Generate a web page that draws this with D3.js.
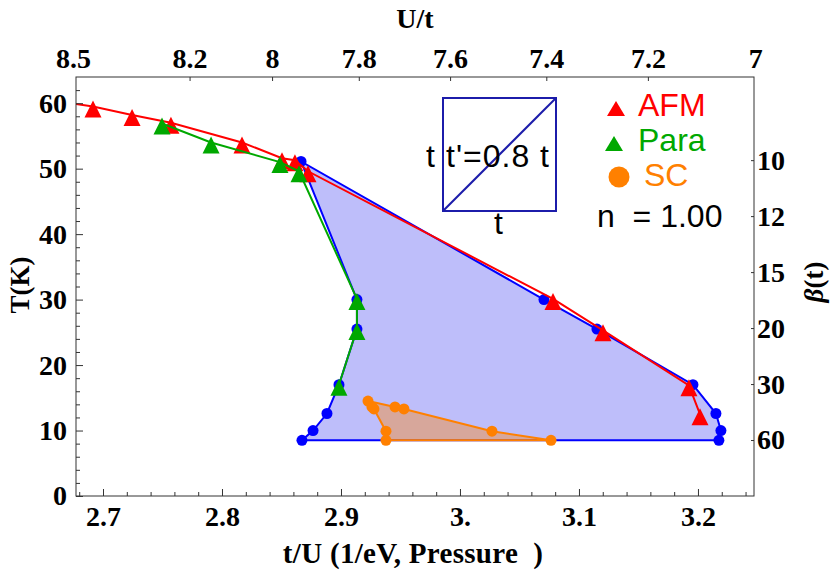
<!DOCTYPE html>
<html>
<head>
<meta charset="UTF-8">
<title>Phase diagram</title>
<script src="https://d3js.org/d3.v7.min.js"></script>
<style>
  body { margin: 0; background: #fff; }
  svg { display: block; }
</style>
</head>
<body>
<svg width="830" height="573"></svg>
<script>
// data (x = t/U, T in K)
const afmX = [2.660, 2.6916, 2.7244, 2.7571, 2.8168, 2.8504, 2.8613, 2.8723, 3.0782, 3.1202, 3.1924, 3.2017];
const afmT = [60.3, 59.5, 58.2, 57.0, 54.0, 51.6, 51.3, 49.6, 30.1, 25.3, 16.9, 12.5];
const paraX = [2.7496, 2.7908, 2.8487, 2.8647, 2.9134, 2.9134, 2.8983];
const paraT = [56.9, 54.0, 51.0, 49.6, 30.1, 25.5, 17.0];
// boundary of the shaded region (left and right branch, same temperatures)
const regionT = [51.1, 30.0, 25.5, 17.0, 12.6, 10.0, 8.5];
const regionLeftX = [2.8664, 2.9134, 2.9134, 2.8983, 2.8882, 2.8765, 2.8672];
const regionRightX = [2.8664, 3.0706, 3.1151, 3.1958, 3.2151, 3.2193, 3.2176];
// superconducting dome
const scT = [14.5, 13.6, 13.3, 9.9, 8.5];
const scLeftX = [2.9227, 2.9260, 2.9277, 2.9378, 2.9378];
const scRightX = [2.9227, 2.9454, 2.9529, 3.0269, 3.0765];

const xTicks = [2.7, 2.8, 2.9, 3.0, 3.1, 3.2];
const xTickLabels = ["2.7", "2.8", "2.9", "3.", "3.1", "3.2"];
const yTicks = [0, 10, 20, 30, 40, 50, 60];
const uTicks = [8.5, 8.2, 8, 7.8, 7.6, 7.4, 7.2, 7];
const betaTicks = [10, 12, 15, 20, 30, 60];
const legendNames = ["AFM", "Para", "SC"];

const UT_PRODUCT = 22.74;   // (U/t) * x
const BETA_T = 513;         // beta * T

const red = "#ff0000", green = "#00a800", blue = "#0000ff", orange = "#ff8000";
const legendColors = [red, green, orange];

const svg = d3.select("svg");
const pLeft = 76, pRight = 754, pTop = 77, pBottom = 496;

const x = d3.scaleLinear().domain([2.6773, 3.2471]).range([pLeft, pRight]);
const y = d3.scaleLinear().domain([0, 64]).range([pBottom, pTop]);

const serif = '"Liberation Serif", "Times New Roman", serif';
const sans = '"Liberation Sans", Arial, sans-serif';

svg.append("defs").append("clipPath").attr("id", "plot")
  .append("rect").attr("x", pLeft).attr("y", pTop)
  .attr("width", pRight - pLeft).attr("height", pBottom - pTop);

const plot = svg.append("g").attr("clip-path", "url(#plot)");

const line = d3.line().x(d => x(d[0])).y(d => y(d[1]));
const closed = d3.line().x(d => x(d[0])).y(d => y(d[1])).curve(d3.curveLinearClosed);

// shaded region
const leftPts = regionLeftX.map((v, i) => [v, regionT[i]]);
const rightPts = regionRightX.map((v, i) => [v, regionT[i]]);
const regionPoly = leftPts.concat(rightPts.slice(1).reverse());
plot.append("path").attr("d", closed(regionPoly))
  .attr("fill", "rgb(190,190,250)").attr("stroke", blue).attr("stroke-width", 2);

// SC region
const scL = scLeftX.map((v, i) => [v, scT[i]]);
const scR = scRightX.map((v, i) => [v, scT[i]]);
const scPoly = scR.concat(scL.slice(1).reverse());
plot.append("path").attr("d", closed(scPoly))
  .attr("fill", orange).attr("fill-opacity", 0.38)
  .attr("stroke", orange).attr("stroke-width", 2);

// blue dots
plot.append("g").selectAll("circle")
  .data(leftPts.concat(rightPts.slice(1)))
  .join("circle")
  .attr("cx", d => x(d[0])).attr("cy", d => y(d[1])).attr("r", 5.5)
  .attr("fill", blue);

const tri = "M0,-6L8.5,11L-8.5,11Z";

// AFM
const afm = afmX.map((v, i) => [v, afmT[i]]);
plot.append("path").attr("d", line(afm)).attr("fill", "none")
  .attr("stroke", red).attr("stroke-width", 2);
plot.append("g").selectAll("path")
  .data(afm).join("path")
  .attr("d", tri).attr("fill", red)
  .attr("transform", d => `translate(${x(d[0])},${y(d[1])})`);

// Para
const para = paraX.map((v, i) => [v, paraT[i]]);
plot.append("path").attr("d", line(para)).attr("fill", "none")
  .attr("stroke", green).attr("stroke-width", 2);
plot.append("g").selectAll("path")
  .data(para).join("path")
  .attr("d", tri).attr("fill", green)
  .attr("transform", d => `translate(${x(d[0])},${y(d[1])})`);

// SC dots
plot.append("g").selectAll("circle")
  .data(scL.concat(scR.slice(1)))
  .join("circle")
  .attr("cx", d => x(d[0])).attr("cy", d => y(d[1])).attr("r", 5.5)
  .attr("fill", orange);

// frame
svg.append("rect").attr("x", pLeft).attr("y", pTop)
  .attr("width", pRight - pLeft).attr("height", pBottom - pTop)
  .attr("fill", "none").attr("stroke", "#333").attr("stroke-width", 1);

function styleAxis(g) {
  g.select(".domain").remove();
  g.attr("font-family", serif).attr("font-weight", "bold").attr("font-size", 28);
  g.selectAll(".tick line").attr("stroke", "#333");
  g.selectAll(".tick text").attr("fill", "#000");
}

// bottom axis
const xMinor = d3.range(134, 163).map(i => i / 50).filter(v => Math.round(v * 50) % 5 !== 0);
svg.append("g").attr("transform", `translate(0,${pBottom})`)
  .call(d3.axisBottom(x).tickValues(xMinor).tickFormat("").tickSizeInner(-4).tickSizeOuter(0))
  .call(styleAxis);
svg.append("g").attr("transform", `translate(0,${pBottom})`)
  .call(d3.axisBottom(x).tickValues(xTicks).tickFormat((d, i) => xTickLabels[i])
    .tickSizeInner(-7).tickSizeOuter(0).tickPadding(10))
  .call(styleAxis);

// left axis
const yMinor = d3.range(0, 64, 2).filter(v => v % 10 !== 0);
svg.append("g").attr("transform", `translate(${pLeft},0)`)
  .call(d3.axisLeft(y).tickValues(yMinor).tickFormat("").tickSizeInner(-4).tickSizeOuter(0))
  .call(styleAxis);
svg.append("g").attr("transform", `translate(${pLeft},0)`)
  .call(d3.axisLeft(y).tickValues(yTicks).tickSizeInner(-7).tickSizeOuter(0).tickPadding(9))
  .call(styleAxis);

// right axis (beta)
svg.append("g").attr("transform", `translate(${pRight},0)`)
  .call(d3.axisRight(y).tickValues(betaTicks.map(b => BETA_T / b))
    .tickFormat((d, i) => betaTicks[i]).tickSizeInner(-3).tickSizeOuter(0).tickPadding(3))
  .call(styleAxis);

// top axis (U/t)
const topG = svg.append("g").attr("transform", `translate(0,${pTop})`)
  .attr("font-family", serif).attr("font-weight", "bold").attr("font-size", 28);
const uTick = topG.selectAll("g").data(uTicks).join("g")
  .attr("transform", u => `translate(${x(UT_PRODUCT / u)},0)`);
uTick.filter(u => x(UT_PRODUCT / u) > pLeft && x(UT_PRODUCT / u) < pRight)
  .append("line").attr("y2", 4).attr("stroke", "#333");
uTick.append("text").attr("y", -9.5).attr("text-anchor", "middle").text(u => u);

// axis titles
svg.append("text").attr("x", 415).attr("y", 28).attr("text-anchor", "middle")
  .attr("font-family", serif).attr("font-weight", "bold").attr("font-size", 28)
  .text("U/t");
svg.append("text").attr("x", 413).attr("y", 563).attr("text-anchor", "middle")
  .attr("font-family", serif).attr("font-weight", "bold").attr("font-size", 29)
  .attr("letter-spacing", 0.3)
  .style("white-space", "pre")
  .text("t/U (1/eV, Pressure  )");
svg.append("text").attr("transform", "translate(29,285) rotate(-90)")
  .attr("text-anchor", "middle")
  .attr("font-family", serif).attr("font-weight", "bold").attr("font-size", 27)
  .text("T(K)");
const bt = svg.append("text").attr("transform", "translate(823,282) rotate(-90)")
  .attr("text-anchor", "middle")
  .attr("font-family", serif).attr("font-weight", "bold").attr("font-size", 27);
bt.append("tspan").attr("font-style", "italic").text("β");
bt.append("tspan").text("(t)");

// inset lattice sketch
const inset = svg.append("g");
inset.append("rect").attr("x", 443).attr("y", 98).attr("width", 113).attr("height", 113)
  .attr("fill", "none").attr("stroke", "#1c1caa").attr("stroke-width", 2);
inset.append("line").attr("x1", 443).attr("y1", 211).attr("x2", 556).attr("y2", 98)
  .attr("stroke", "#1c1caa").attr("stroke-width", 2);
inset.selectAll("text")
  .data([["t", 426, 167, 0], ["t'=0.8 t", 446, 167, 1], ["t", 494, 234, 0]])
  .join("text")
  .attr("x", d => d[1]).attr("y", d => d[2])
  .attr("letter-spacing", d => d[3])
  .attr("font-family", sans).attr("font-size", 32).attr("fill", "#000")
  .style("white-space", "pre")
  .text(d => d[0]);

// legend
const lg = svg.append("g");
const legY = [109, 144, 177];
lg.selectAll("path.mk").data(legendNames.slice(0, 2)).join("path")
  .attr("class", "mk")
  .attr("d", "M0,-8L9,7L-9,7Z")
  .attr("fill", (d, i) => legendColors[i])
  .attr("transform", (d, i) => `translate(${[616, 614][i]},${legY[i]})`);
lg.append("circle").attr("cx", 619).attr("cy", legY[2]).attr("r", 10.5).attr("fill", orange);
lg.selectAll("text").data(legendNames).join("text")
  .attr("x", (d, i) => [638, 638, 644][i])
  .attr("y", (d, i) => [116, 151, 186][i])
  .attr("font-family", sans).attr("font-size", 32)
  .attr("fill", (d, i) => legendColors[i])
  .text(d => d);
svg.append("text").attr("x", 597).attr("y", 227)
  .attr("font-family", sans).attr("font-size", 32).attr("fill", "#000")
  .style("white-space", "pre")
  .text("n  = 1.00");
</script>
</body>
</html>
